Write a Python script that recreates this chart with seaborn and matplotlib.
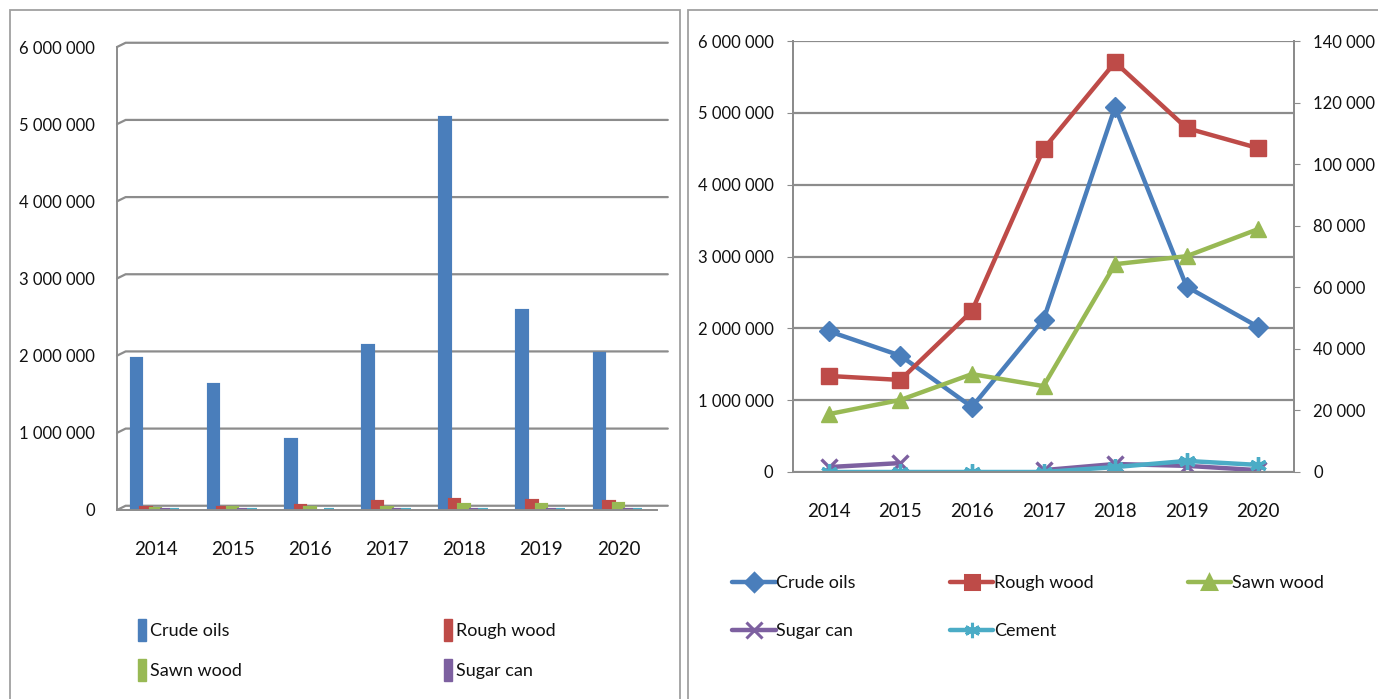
import numpy as np
import pandas as pd
import matplotlib.pyplot as plt
import seaborn as sns
from matplotlib.patches import Rectangle, Patch
from matplotlib.lines import Line2D
from matplotlib.ticker import FuncFormatter, FixedLocator

# Data
years = [2014, 2015, 2016, 2017, 2018, 2019, 2020]
products = ['Crude oils', 'Rough wood', 'Sawn wood', 'Sugar can', 'Cement']
crude_oils = [1960000, 1620000, 905000, 2120000, 5080000, 2580000, 2020000]
rough_wood = [31200, 29900, 52300, 104900, 133100, 111700, 105200]
sawn_wood = [18800, 23400, 31800, 27900, 67500, 70100, 78900]
sugar_can = [1600, 2900, np.nan, 600, 2600, 2000, 600]
cement = [0, 0, 0, 0, 1600, 3600, 2300]

colors = {'Crude oils': '#4A7EBB', 'Rough wood': '#BE4B48', 'Sawn wood': '#98B954',
          'Sugar can': '#7D60A0', 'Cement': '#4BACC6'}
markers = {'Crude oils': 'D', 'Rough wood': 's', 'Sawn wood': '^',
           'Sugar can': 'x', 'Cement': (6, 2, 0)}
msizes = {'Crude oils': 10, 'Rough wood': 11, 'Sawn wood': 11,
          'Sugar can': 12, 'Cement': 12}

sns.set_style('white')
plt.rcParams['font.family'] = ['Lato', 'DejaVu Sans']
plt.rcParams['text.color'] = '#111111'
plt.rcParams['xtick.labelcolor'] = '#111111'
plt.rcParams['ytick.labelcolor'] = '#111111'

series = [crude_oils, rough_wood, sawn_wood, sugar_can, cement]
df = pd.DataFrame({
    'year': np.tile(years, len(products)),
    'product': np.repeat(products, len(years)),
    'value': np.concatenate(series),
})
# sugar can has no 2016 value: split its line into two segments
df['seg'] = np.where((df['product'] == 'Sugar can') & (df['year'] > 2016), 1, 0)

fmt = FuncFormatter(lambda v, p: f"{int(v):,}".replace(',', ' '))
grid_c = '#8c8c8c'

fig = plt.figure(figsize=(13.78, 6.99), dpi=100)
W, H = 1378, 699

# panel frames
fig.add_artist(Rectangle((10 / W, -0.02), 670 / W, 1 - 10 / H + 0.02, transform=fig.transFigure,
                         fill=False, ec='#a0a0a0', lw=1.3))
fig.add_artist(Rectangle((688 / W, -0.02), 0.6, 1 - 10 / H + 0.02, transform=fig.transFigure,
                         fill=False, ec='#a0a0a0', lw=1.3))

# ---------------- left: bar chart ----------------
ax1 = fig.add_axes([117 / W, 1 - 510 / H, 540 / W, 463 / H])
sns.barplot(data=df, x='year', y='value', hue='product', hue_order=products,
            palette=colors, width=0.62, saturation=1, legend=False, ax=ax1)
for p in ax1.patches:
    p.set_edgecolor(p.get_facecolor())
    p.set_linewidth(3)
ax1.set_ylim(0, 6000000)
ax1.set_xlim(-0.5, 6.5)
ax1.set_yticks(range(0, 6000001, 1000000))
ax1.yaxis.set_major_formatter(fmt)
ax1.set_xlabel('')
ax1.set_ylabel('')
# pseudo 3D back-wall gridlines
for v in range(0, 6000001, 1000000):
    ax1.plot([0, 0.016, 1.02], [v, v + 55000, v + 55000], color=grid_c, lw=1.6,
             transform=ax1.get_yaxis_transform(), clip_on=False, zorder=0)
for s in ['top', 'right']:
    ax1.spines[s].set_visible(False)
for s in ['left', 'bottom']:
    ax1.spines[s].set_color(grid_c)
    ax1.spines[s].set_linewidth(1.4)
ax1.tick_params(axis='y', length=4, color=grid_c, pad=12, labelsize=12)
ax1.tick_params(axis='x', which='major', length=0, pad=22, labelsize=13.5)
ax1.xaxis.set_minor_locator(FixedLocator(np.arange(-0.5, 7, 1)))
ax1.tick_params(axis='x', which='minor', length=9, color=grid_c, width=1.2)

# legend filled column by column -> reorder so rows read across
bar_order = ['Crude oils', 'Sawn wood', 'Rough wood', 'Sugar can']
bar_handles = [Patch(color=colors[p], label=p) for p in bar_order]
fig.legend(handles=bar_handles, ncol=2, loc='upper left', frameon=False,
           bbox_to_anchor=(122 / W, 1 - 603 / H), fontsize=13,
           handlelength=0.45, handleheight=1.5, handletextpad=0.2,
           columnspacing=11.2, labelspacing=1.0)

# ---------------- right: line chart ----------------
ax2 = fig.add_axes([793 / W, 1 - 472 / H, 501 / W, 431 / H])
ax3 = ax2.twinx()
for prod in products:
    d = df[df['product'] == prod].dropna()
    target = ax2 if prod == 'Crude oils' else ax3
    filled = prod in ('Crude oils', 'Rough wood', 'Sawn wood')
    sns.lineplot(data=d, x='year', y='value', units='seg', estimator=None,
                 color=colors[prod], marker=markers[prod], markersize=msizes[prod],
                 mew=1 if filled else 2.4, markeredgecolor=colors[prod],
                 lw=3.2, ax=target, legend=False)

ax2.set_ylim(0, 6000000)
ax2.set_yticks(range(0, 6000001, 1000000))
ax2.yaxis.set_major_formatter(fmt)
ax3.set_ylim(0, 140000)
ax3.set_yticks(range(0, 140001, 20000))
ax3.yaxis.set_major_formatter(fmt)
ax2.set_xlim(2013.5, 2020.5)
ax2.set_xticks(years)
ax2.xaxis.set_minor_locator(FixedLocator(np.arange(2013.5, 2021, 1)))
ax2.grid(axis='y', color=grid_c, lw=1.6)
ax2.set_axisbelow(True)
for a in (ax2, ax3):
    a.set_xlabel('')
    a.set_ylabel('')
    a.spines['top'].set_visible(False)
    for s in ['left', 'right', 'bottom']:
        a.spines[s].set_color(grid_c)
        a.spines[s].set_linewidth(1.4)
ax2.tick_params(axis='y', length=4, color=grid_c, pad=10, labelsize=12)
ax3.tick_params(axis='y', length=4, color=grid_c, pad=10, labelsize=12)
ax2.tick_params(axis='x', which='major', length=0, pad=22, labelsize=13.5)
ax2.tick_params(axis='x', which='minor', length=7, color=grid_c, width=1.2)

line_order = ['Crude oils', 'Sugar can', 'Rough wood', 'Cement', 'Sawn wood']
line_handles = [Line2D([], [], color=colors[p], marker=markers[p], lw=3.2,
                       ms=msizes[p] - 1, mew=2.2, mec=colors[p], label=p)
                for p in line_order]
fig.legend(handles=line_handles, ncol=3, loc='upper left', frameon=False,
           bbox_to_anchor=(716 / W, 1 - 559 / H), fontsize=13,
           handlelength=2.4, handletextpad=0.05, columnspacing=5.2,
           labelspacing=1.75)

fig.savefig('out.png', dpi=100)
